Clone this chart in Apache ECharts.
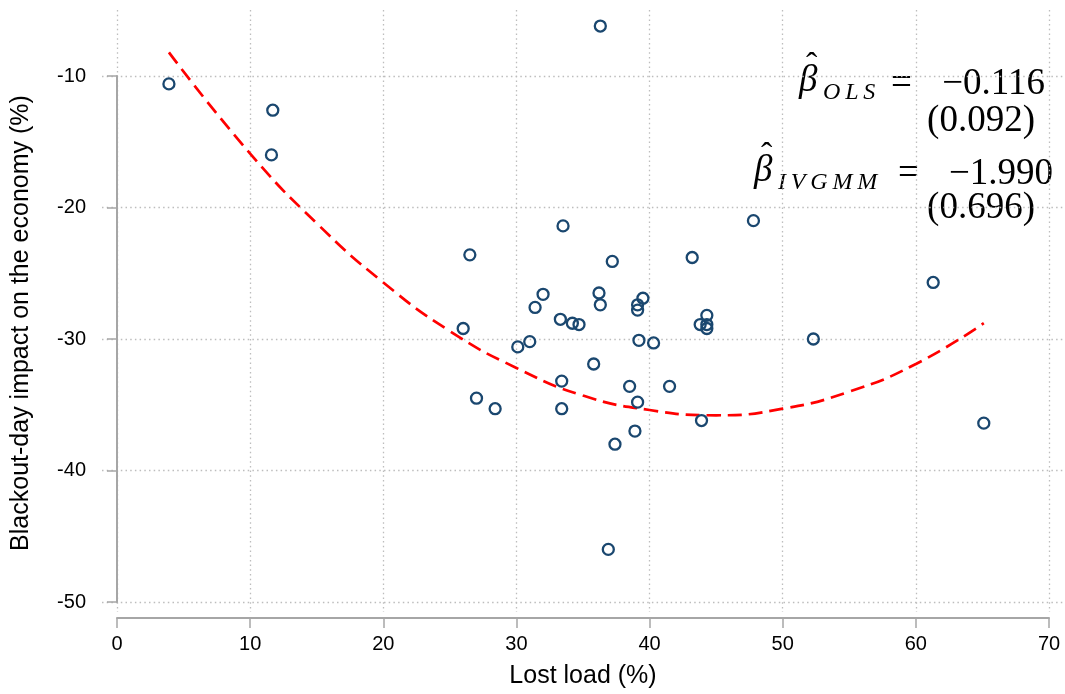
<html>
<head>
<meta charset="utf-8">
<script type="text/javascript" src="https://cdn.jsdelivr.net/npm/echarts@6/dist/echarts.min.js"></script>
<style>
  body { margin: 0; background: #fff; }
  #container { width: 1065px; height: 694px; }
</style>
</head>
<body>
<div id="container"></div>
<script type="text/javascript">
// lost load (%) and blackout-day impact (%) per event
var lostLoad = [3.9, 11.7, 11.6, 36.3, 47.8, 33.5, 26.5, 37.2, 43.2, 61.3,
    32.0, 31.4, 36.2, 36.3, 39.5, 39.1, 39.1, 33.3, 34.2, 34.7,
    44.3, 43.8, 44.3, 44.3, 26.0, 31.0, 30.1, 39.2, 40.3, 52.3,
    35.8, 33.4, 38.5, 41.5, 27.0, 28.4, 33.4, 39.1, 43.9, 38.9,
    37.4, 65.1, 36.9];
var impact = [-10.6, -12.6, -16.0, -6.2, -21.0, -21.4, -23.6, -24.1, -23.8, -25.7,
    -26.6, -27.6, -26.5, -27.4, -26.9, -27.4, -27.8, -28.5, -28.8, -28.9,
    -28.2, -28.9, -28.9, -29.2, -29.2, -30.2, -30.6, -30.1, -30.3, -30.0,
    -31.9, -33.2, -33.6, -33.6, -34.5, -35.3, -35.3, -34.8, -36.2, -37.0,
    -38.0, -36.4, -46.0];

// fitted quadratic
var fitX = [3.9, 10, 15, 20, 25, 30, 35, 40, 45, 50, 55, 60, 65.1];
var fitY = [-8.2, -15.9, -21.2, -25.7, -29.4, -32.2, -34.3, -35.4, -35.8, -35.3, -34.0, -31.9, -28.8];

var xTicks = [0, 10, 20, 30, 40, 50, 60, 70];
var yTicks = [-50, -40, -30, -20, -10];

var pts = [];
for (var i = 0; i < lostLoad.length; i++) pts.push([lostLoad[i], impact[i]]);
var fit = [];
for (var j = 0; j < fitX.length; j++) fit.push([fitX[j], fitY[j]]);

var sans = '"Liberation Sans", Arial, Helvetica, sans-serif';
var serif = '"Liberation Serif", "DejaVu Serif", serif';
var axisGray = '#a6a6a6';
var ts = '\u2009'; // thin space for the wide math-italic subscripts

var myChart = echarts.init(document.getElementById('container'), null, {renderer: 'canvas'});

var option = {
    backgroundColor: '#ffffff',
    animation: false,
    grid: [
        // axis lines, ticks and labels
        {left: 117, right: 16, top: 76, bottom: 92},
        // plot region with grid lines and data
        {left: 102, right: 0, top: 10, bottom: 82}
    ],
    xAxis: [
        {
            gridIndex: 0, type: 'value', min: xTicks[0], max: xTicks[xTicks.length - 1], interval: 10,
            offset: 16,
            name: 'Lost load (%)', nameLocation: 'middle', nameGap: 46,
            nameTextStyle: {fontFamily: sans, fontSize: 25, color: '#000'},
            axisLine: {show: true, lineStyle: {color: axisGray, width: 2}},
            axisTick: {show: true, length: 10, lineStyle: {color: axisGray, width: 1.5}},
            axisLabel: {fontFamily: sans, fontSize: 20, color: '#000', margin: 16},
            splitLine: {show: false}
        },
        {
            gridIndex: 1, type: 'value', min: -1.1266, max: 71.2,
            axisLine: {show: false}, axisTick: {show: false}, axisLabel: {show: false},
            splitLine: {show: true, showMinLine: false, showMaxLine: false,
                lineStyle: {color: '#bdbdbd', width: 1.3, type: [1.5, 3.2]}}
        }
    ],
    yAxis: [
        {
            gridIndex: 0, type: 'value', min: yTicks[0], max: yTicks[yTicks.length - 1], interval: 10,
            offset: 16,
            name: 'Blackout-day impact on the economy (%)', nameLocation: 'middle', nameGap: 67,
            nameTextStyle: {fontFamily: sans, fontSize: 25, color: '#000', padding: [0, 0, 0, 32]},
            axisLine: {show: true, lineStyle: {color: axisGray, width: 2}},
            axisTick: {show: true, length: 10, lineStyle: {color: axisGray, width: 1.5}},
            axisLabel: {fontFamily: sans, fontSize: 20, color: '#000', margin: 15},
            splitLine: {show: false}
        },
        {
            gridIndex: 1, type: 'value', min: -50.76, max: -4.98,
            axisLine: {show: false}, axisTick: {show: false}, axisLabel: {show: false},
            splitLine: {show: true, showMinLine: false, showMaxLine: false,
                lineStyle: {color: '#bdbdbd', width: 1.3, type: [1.5, 3.2]}}
        }
    ],
    series: [
        {
            type: 'line', xAxisIndex: 1, yAxisIndex: 1,
            data: fit, smooth: true, showSymbol: false, z: 2,
            lineStyle: {color: '#ff0000', width: 2.7, type: [14, 7]}
        },
        {
            type: 'scatter', xAxisIndex: 1, yAxisIndex: 1,
            data: pts, symbol: 'circle', symbolSize: 11, z: 3,
            itemStyle: {color: 'rgba(255,255,255,0)', borderColor: '#1a476f', borderWidth: 2.3, opacity: 1}
        }
    ],
    graphic: [
        // OLS estimate
        {type: 'text', left: 799, top: 63, style: {text: 'β', font: 'italic 37px ' + serif, fill: '#000'}},
        {type: 'text', left: 806, top: 50, style: {text: '\u02C6', font: '34px ' + serif, fill: '#000'}},
        {type: 'text', left: 823, top: 81, style: {text: 'O' + ts + 'L' + ts + 'S', font: 'italic 24px ' + serif, fill: '#000'}},
        {type: 'text', left: 891, top: 66, style: {text: '=', font: '37px ' + serif, fill: '#000'}},
        {type: 'text', right: 20, top: 66, style: {text: '\u22120.116', font: '37px ' + serif, fill: '#000'}},
        {type: 'text', right: 30, top: 103, style: {text: '(0.092)', font: '37px ' + serif, fill: '#000'}},
        // IV-GMM estimate
        {type: 'text', left: 754, top: 153, style: {text: 'β', font: 'italic 37px ' + serif, fill: '#000'}},
        {type: 'text', left: 761, top: 140, style: {text: '\u02C6', font: '34px ' + serif, fill: '#000'}},
        {type: 'text', left: 778, top: 171, style: {text: 'I' + ts + 'V' + ts + 'G' + ts + 'M' + ts + 'M', font: 'italic 24px ' + serif, fill: '#000'}},
        {type: 'text', left: 898, top: 156, style: {text: '=', font: '37px ' + serif, fill: '#000'}},
        {type: 'text', right: 12, top: 156, style: {text: '\u22121.990', font: '37px ' + serif, fill: '#000'}},
        {type: 'text', right: 30, top: 190, style: {text: '(0.696)', font: '37px ' + serif, fill: '#000'}}
    ]
};

myChart.setOption(option);
</script>
</body>
</html>
